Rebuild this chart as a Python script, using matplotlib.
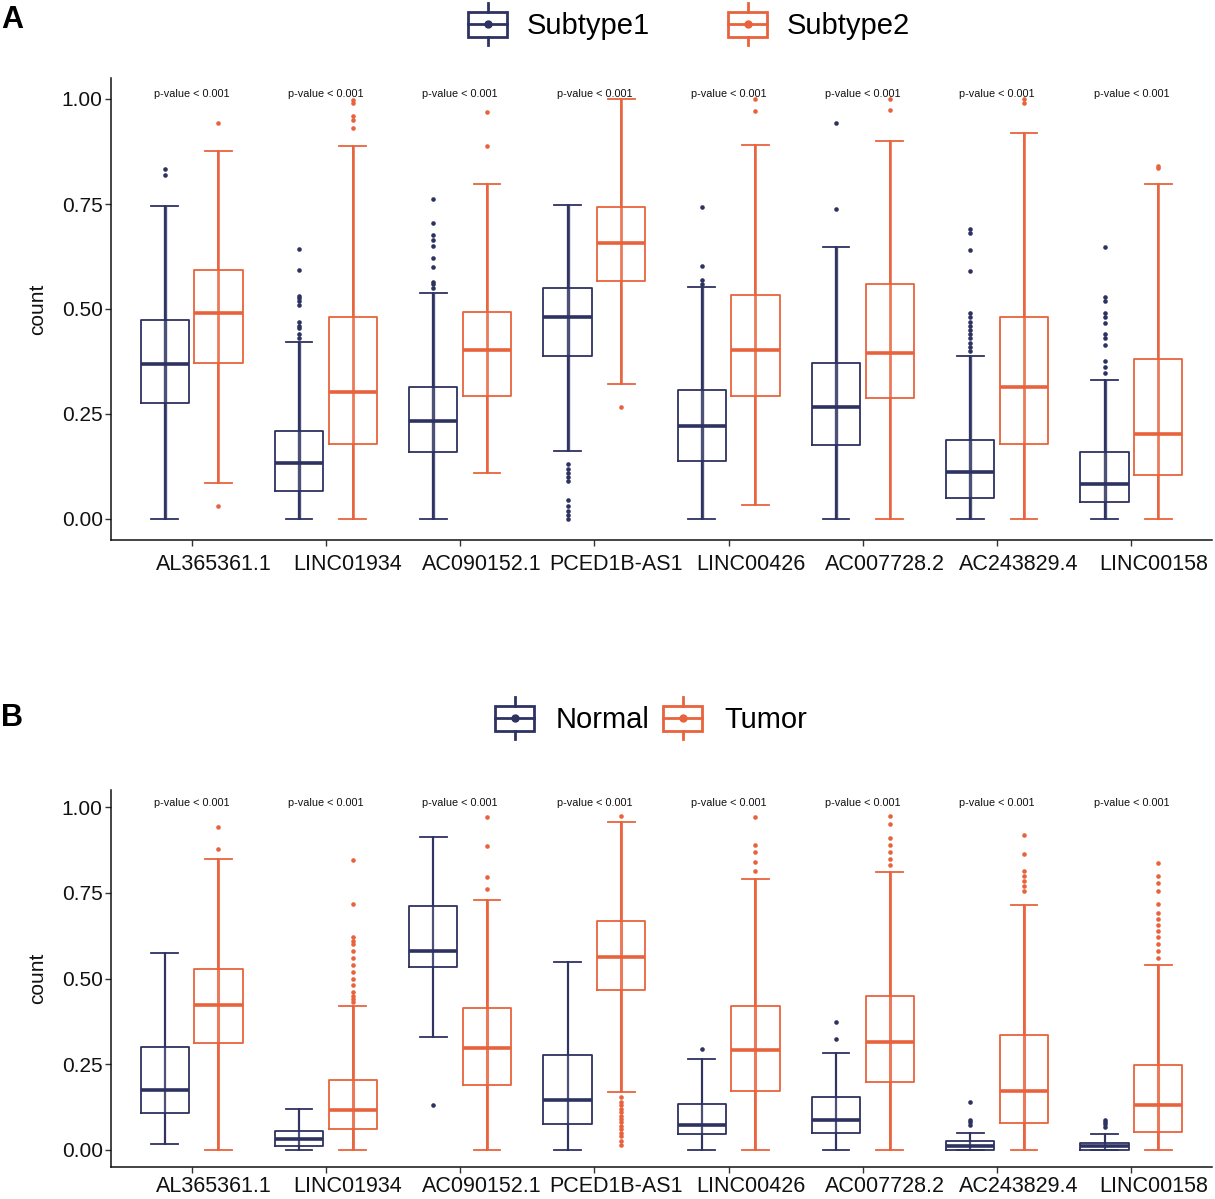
import matplotlib
matplotlib.use('Agg')
import matplotlib.pyplot as plt
from matplotlib.legend_handler import HandlerBase
from matplotlib.patches import Rectangle, Patch
from matplotlib.lines import Line2D
import matplotlib.transforms as mtrans

plt.rcParams['font.family'] = ['Liberation Sans', 'DejaVu Sans']

genes = ['AL365361.1', 'LINC01934', 'AC090152.1', 'PCED1B-AS1',
         'LINC00426', 'AC007728.2', 'AC243829.4', 'LINC00158']
pvalue_text = 'p-value < 0.001'
yticks = [0.0, 0.25, 0.5, 0.75, 1.0]
ytick_labels = ['0.00', '0.25', '0.50', '0.75', '1.00']

# ---------------- Panel A : Subtype1 / Subtype2 ----------------
a_groups = ['Subtype1', 'Subtype2']
a1_q1 = [0.275, 0.067, 0.160, 0.388, 0.137, 0.177, 0.051, 0.041]
a1_med = [0.369, 0.133, 0.233, 0.480, 0.222, 0.267, 0.112, 0.084]
a1_q3 = [0.473, 0.210, 0.315, 0.551, 0.307, 0.371, 0.187, 0.159]
a1_lo = [0.0, 0.0, 0.0, 0.163, 0.0, 0.0, 0.0, 0.0]
a1_hi = [0.746, 0.421, 0.537, 0.747, 0.552, 0.647, 0.388, 0.331]
a1_out = [[0.833, 0.820],
          [0.642, 0.594, 0.530, 0.525, 0.520, 0.510, 0.470, 0.460, 0.455, 0.440, 0.430],
          [0.761, 0.704, 0.676, 0.664, 0.650, 0.621, 0.601, 0.565, 0.560, 0.550],
          [0.130, 0.120, 0.110, 0.100, 0.090, 0.045, 0.030, 0.020, 0.010, 0.000],
          [0.744, 0.603, 0.570, 0.560],
          [0.943, 0.737],
          [0.690, 0.680, 0.640, 0.590, 0.490, 0.480, 0.470, 0.460, 0.450, 0.440,
           0.430, 0.420, 0.410, 0.400],
          [0.647, 0.529, 0.520, 0.490, 0.480, 0.466, 0.440, 0.430, 0.414, 0.375,
           0.363, 0.347]]

a2_q1 = [0.372, 0.179, 0.293, 0.567, 0.293, 0.287, 0.178, 0.104]
a2_med = [0.490, 0.302, 0.402, 0.656, 0.402, 0.396, 0.315, 0.203]
a2_q3 = [0.593, 0.480, 0.494, 0.744, 0.533, 0.560, 0.480, 0.382]
a2_lo = [0.086, 0.0, 0.110, 0.321, 0.034, 0.0, 0.0, 0.0]
a2_hi = [0.876, 0.887, 0.797, 1.000, 0.890, 0.901, 0.920, 0.798]
a2_out = [[0.942, 0.031],
          [0.998, 0.990, 0.960, 0.950, 0.930],
          [0.887, 0.968],
          [0.267],
          [0.971, 1.000],
          [0.974, 1.000],
          [0.990, 1.000],
          [0.835, 0.840]]

# ---------------- Panel B : Normal / Tumor ----------------
b_groups = ['Normal', 'Tumor']
b1_q1 = [0.108, 0.010, 0.534, 0.075, 0.047, 0.049, 0.000, 0.000]
b1_med = [0.174, 0.031, 0.580, 0.145, 0.074, 0.088, 0.012, 0.012]
b1_q3 = [0.301, 0.054, 0.711, 0.276, 0.135, 0.154, 0.026, 0.021]
b1_lo = [0.018, 0.0, 0.330, 0.0, 0.0, 0.0, 0.0, 0.0]
b1_hi = [0.573, 0.118, 0.912, 0.549, 0.265, 0.284, 0.050, 0.047]
b1_out = [[], [], [0.132], [], [0.294], [0.324, 0.374],
          [0.086, 0.080, 0.072, 0.140],
          [0.086, 0.080, 0.075, 0.067]]

b2_q1 = [0.313, 0.060, 0.190, 0.466, 0.172, 0.199, 0.078, 0.051]
b2_med = [0.423, 0.116, 0.296, 0.563, 0.291, 0.314, 0.173, 0.130]
b2_q3 = [0.528, 0.204, 0.415, 0.667, 0.421, 0.449, 0.334, 0.249]
b2_lo = [0.0, 0.0, 0.0, 0.170, 0.0, 0.0, 0.0, 0.0]
b2_hi = [0.850, 0.419, 0.730, 0.956, 0.789, 0.810, 0.713, 0.540]
b2_out = [[0.877, 0.943],
          [0.846, 0.716, 0.620, 0.610, 0.600, 0.580, 0.560, 0.540, 0.520, 0.500,
           0.480, 0.460, 0.450, 0.440, 0.430],
          [0.760, 0.796, 0.887, 0.970],
          [0.975, 0.154, 0.140, 0.130, 0.120, 0.110, 0.100, 0.090, 0.080, 0.070,
           0.060, 0.050, 0.040, 0.025, 0.013],
          [0.815, 0.840, 0.870, 0.890, 0.972],
          [0.830, 0.850, 0.870, 0.890, 0.910, 0.950, 0.975],
          [0.755, 0.770, 0.785, 0.800, 0.814, 0.863, 0.920],
          [0.838, 0.800, 0.780, 0.755, 0.716, 0.690, 0.675, 0.657, 0.640, 0.620,
           0.600, 0.580, 0.560]]

NAVY = '#2E3261'
ORANGE = '#E8633D'
DPI = 100
fig = plt.figure(figsize=(12.15, 11.99), dpi=DPI)


class BoxIconHandler(HandlerBase):
    def __init__(self, color):
        super().__init__()
        self.color = color

    def create_artists(self, legend, orig_handle, xdescent, ydescent,
                       width, height, fontsize, trans):
        c = self.color
        x0, y0 = -xdescent, -ydescent
        xm, ym = x0 + width / 2, y0 + height / 2
        ext = 0.33 * height
        arts = [
            Rectangle((x0, y0), width, height, fill=False, ec=c, lw=2.0,
                      transform=trans),
            Line2D([x0, x0 + width], [ym, ym], color=c, lw=2.0, transform=trans),
            Line2D([xm, xm], [y0 + height, y0 + height + ext], color=c, lw=2.0,
                   transform=trans),
            Line2D([xm, xm], [y0, y0 - ext], color=c, lw=2.0, transform=trans),
            Line2D([xm], [ym], marker='o', ms=5, color=c, mec=c, ls='none',
                   transform=trans),
        ]
        return arts


def draw_panel(rect, groups, d1, d2, strip_w, legend_xy, legend_gap, label,
               label_y, xpad):
    ax = fig.add_axes(rect)
    n = len(genes)
    cats = list(range(1, n + 1))
    for gi, (d, col) in enumerate([(d1, NAVY), (d2, ORANGE)]):
        q1, med, q3, lo, hi, out = d
        off = -0.2 if gi == 0 else 0.2
        pos = [c + off for c in cats]
        stats = [dict(med=med[i], q1=q1[i], q3=q3[i], whislo=lo[i], whishi=hi[i],
                      fliers=[]) for i in range(n)]
        ax.bxp(stats, positions=pos, widths=0.36, showfliers=False,
               capwidths=0.2, manage_ticks=False,
               boxprops=dict(color=col, lw=1.3),
               medianprops=dict(color=col, lw=2.6),
               whiskerprops=dict(color=col, lw=1.3),
               capprops=dict(color=col, lw=1.3))
        # dense strip of points over the whisker range
        ax.vlines(pos, lo, hi, colors=col, lw=strip_w[gi], alpha=0.85, zorder=4)
        for i in range(n):
            if out[i]:
                ax.plot([pos[i]] * len(out[i]), out[i], 'o', ms=3.3, color=col,
                        mec='none', zorder=5)
    for c in cats:
        ax.text(c, 1.012, pvalue_text, ha='center', va='center', fontsize=7.8,
                color='#111111', zorder=6)

    ax.set_xlim(0.4, n + 0.6)
    ax.set_ylim(-0.05, 1.05)
    ax.set_yticks(yticks)
    ax.set_yticklabels(ytick_labels)
    ax.set_xticks(cats)
    ax.set_xticklabels(genes)
    for s in ['top', 'right']:
        ax.spines[s].set_visible(False)
    for s in ['left', 'bottom']:
        ax.spines[s].set_linewidth(1.1)
        ax.spines[s].set_color('#111111')
    ax.tick_params(axis='both', length=4, width=1.0, color='#333333',
                   labelcolor='#111111')
    ax.tick_params(axis='y', labelsize=15, pad=2)
    ax.tick_params(axis='x', labelsize=15.5, pad=xpad)
    shift = mtrans.ScaledTranslation(22 / DPI, 0, fig.dpi_scale_trans)
    for lbl in ax.get_xticklabels():
        lbl.set_transform(lbl.get_transform() + shift)
    ax.set_ylabel('count', fontsize=15, color='#111111')
    ax.yaxis.set_label_coords(-0.058, 0.5)

    handles = [Patch(label=groups[0]), Patch(label=groups[1])]
    hmap = {handles[0]: BoxIconHandler(NAVY), handles[1]: BoxIconHandler(ORANGE)}
    fig.legend(handles=handles, handler_map=hmap, loc='center',
               bbox_to_anchor=legend_xy, ncol=2, frameon=False, fontsize=21,
               handlelength=1.34, handleheight=0.96, handletextpad=legend_gap[0],
               columnspacing=legend_gap[1], borderpad=0.2)
    fig.text(0.001, label_y, label, fontsize=22, fontweight='bold', ha='left',
             va='center')
    return ax


W, H = 1215.0, 1199.0
rectA = [111 / W, 1 - 540 / H, (1212 - 111) / W, (540 - 78) / H]
rectB = [111 / W, 1 - 1167 / H, (1212 - 111) / W, (1167 - 790) / H]

draw_panel(rectA, a_groups,
           (a1_q1, a1_med, a1_q3, a1_lo, a1_hi, a1_out),
           (a2_q1, a2_med, a2_q3, a2_lo, a2_hi, a2_out),
           strip_w=(2.4, 2.0), legend_xy=(689 / W, 1 - 26 / H),
           legend_gap=(0.65, 2.7), label='A', label_y=1 - 20 / H, xpad=6)
draw_panel(rectB, b_groups,
           (b1_q1, b1_med, b1_q3, b1_lo, b1_hi, b1_out),
           (b2_q1, b2_med, b2_q3, b2_lo, b2_hi, b2_out),
           strip_w=(1.6, 2.2), legend_xy=(651 / W, 1 - 720 / H),
           legend_gap=(0.75, 0.45), label='B', label_y=1 - 718 / H, xpad=2.5)

fig.savefig('out.png', dpi=DPI)
